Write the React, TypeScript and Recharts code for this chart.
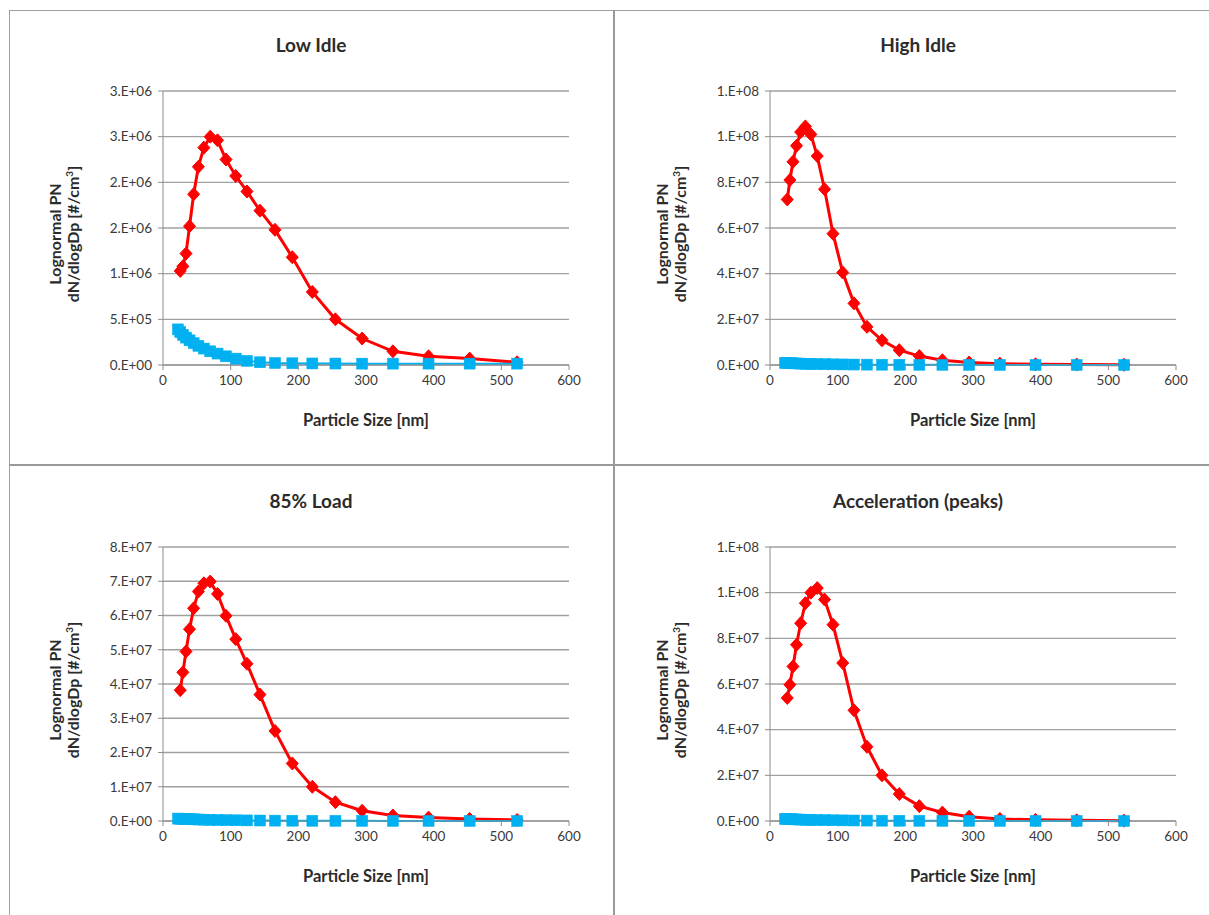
import { CartesianGrid, Line, LineChart, XAxis, YAxis } from "recharts";

// EEPS channel midpoints, nm
const particleSizes = [
  22.1, 25.5, 29.4, 34.0, 39.2, 45.3, 52.3, 60.4, 69.8, 80.6, 93.1, 107.5,
  124.1, 143.3, 165.5, 191.1, 220.7, 254.8, 294.3, 339.8, 392.4, 453.2, 523.3,
];

const xTicks = [0, 100, 200, 300, 400, 500, 600];

// Low Idle
const lowIdleRed = [
  null, 1.03e6, 1.08e6, 1.22e6, 1.52e6, 1.87e6, 2.17e6, 2.38e6, 2.5e6, 2.46e6,
  2.25e6, 2.07e6, 1.9e6, 1.69e6, 1.48e6, 1.18e6, 0.8e6, 0.5e6, 0.29e6, 0.15e6,
  0.095e6, 0.07e6, 0.03e6,
];
const lowIdleBlue = [
  3.9e5, 3.6e5, 3.3e5, 3.0e5, 2.7e5, 2.4e5, 2.1e5, 1.8e5, 1.5e5, 1.25e5,
  0.95e5, 0.7e5, 0.45e5, 0.3e5, 0.22e5, 0.19e5, 0.17e5, 0.16e5, 0.15e5, 0.15e5,
  0.15e5, 0.15e5, 0.15e5,
];
const lowIdleTicks = [0, 5e5, 1e6, 1.5e6, 2e6, 2.5e6, 3e6];

// High Idle
const highIdleRed = [
  null, 7.25e7, 8.1e7, 8.9e7, 9.6e7, 1.02e8, 1.045e8, 1.01e8, 9.15e7, 7.7e7,
  5.75e7, 4.05e7, 2.7e7, 1.67e7, 1.08e7, 0.65e7, 0.39e7, 0.21e7, 0.11e7,
  0.06e7, 0.03e7, 0.02e7, 0.01e7,
];
const highIdleBlue = [
  9e5, 8.6e5, 8.1e5, 7.4e5, 6.8e5, 6.1e5, 5.5e5, 4.8e5, 4.2e5, 3.6e5, 3.0e5,
  2.5e5, 2.0e5, 1.6e5, 1.3e5, 1.0e5, 8e4, 6e4, 5e4, 4e4, 3e4, 2e4, 1.5e4,
];
const highIdleTicks = [0, 2e7, 4e7, 6e7, 8e7, 1e8, 1.2e8];

// 85% Load
const loadRed = [
  null, 3.82e7, 4.34e7, 4.95e7, 5.6e7, 6.21e7, 6.7e7, 6.94e7, 6.99e7, 6.63e7,
  5.99e7, 5.31e7, 4.59e7, 3.69e7, 2.63e7, 1.68e7, 1.0e7, 0.55e7, 0.3e7,
  0.16e7, 0.1e7, 0.06e7, 0.03e7,
];
const loadBlue = [
  7e5, 6.7e5, 6.3e5, 5.9e5, 5.4e5, 4.9e5, 4.4e5, 3.9e5, 3.4e5, 2.9e5, 2.5e5,
  2.1e5, 1.7e5, 1.4e5, 1.1e5, 9e4, 7e4, 5e4, 4e4, 3e4, 2e4, 1.5e4, 1e4,
];
const loadTicks = [0, 1e7, 2e7, 3e7, 4e7, 5e7, 6e7, 7e7, 8e7];

// Acceleration (peaks)
const accelRed = [
  null, 5.39e7, 5.97e7, 6.77e7, 7.72e7, 8.66e7, 9.54e7, 1.0e8, 1.02e8, 9.7e7,
  8.6e7, 6.92e7, 4.85e7, 3.25e7, 2.0e7, 1.18e7, 0.65e7, 0.37e7, 0.19e7,
  0.09e7, 0.05e7, 0.03e7, 0.015e7,
];
const accelBlue = [
  9e5, 8.5e5, 8e5, 7.4e5, 6.8e5, 6.2e5, 5.6e5, 5e5, 4.4e5, 3.8e5, 3.2e5,
  2.7e5, 2.2e5, 1.8e5, 1.4e5, 1.1e5, 8e4, 6e4, 5e4, 4e4, 3e4, 2e4, 1.5e4,
];
const accelTicks = [0, 2e7, 4e7, 6e7, 8e7, 1e8, 1.2e8];

const panels = [
  { title: "Low Idle", red: lowIdleRed, blue: lowIdleBlue, ticks: lowIdleTicks },
  { title: "High Idle", red: highIdleRed, blue: highIdleBlue, ticks: highIdleTicks },
  { title: "85% Load", red: loadRed, blue: loadBlue, ticks: loadTicks },
  { title: "Acceleration (peaks)", red: accelRed, blue: accelBlue, ticks: accelTicks },
];

const FONT = "Lato, 'Open Sans', sans-serif";
const RED = "#FF0000";
const BLUE = "#00B0F0";
const GRID = "#A0A0A0";
const TEXT = "#2b2b2b";

// Excel "0.E+00" number format
function sci(v: number) {
  if (v === 0) return "0.E+00";
  let e = Math.floor(Math.log10(v));
  let m = Math.round(v / Math.pow(10, e));
  if (m >= 10) {
    m = 1;
    e += 1;
  }
  return `${m}.E+${String(e).padStart(2, "0")}`;
}

const diamondDot = (p: any) => {
  const { cx, cy, index } = p;
  if (cx == null || cy == null || isNaN(cy)) return <g key={`d${index}`} />;
  return (
    <path
      key={`d${index}`}
      d={`M${cx},${cy - 6.5}L${cx + 6},${cy}L${cx},${cy + 6.5}L${cx - 6},${cy}Z`}
      fill={RED}
      stroke={RED}
      strokeWidth={1}
    />
  );
};

const squareDot = (p: any) => {
  const { cx, cy, index } = p;
  if (cx == null || cy == null || isNaN(cy)) return <g key={`s${index}`} />;
  return (
    <rect
      key={`s${index}`}
      x={cx - 5.5}
      y={cy - 5.5}
      width={11}
      height={11}
      fill={BLUE}
      stroke={BLUE}
      strokeWidth={0.5}
    />
  );
};

function Panel({
  title,
  red,
  blue,
  ticks,
}: {
  title: string;
  red: (number | null)[];
  blue: number[];
  ticks: number[];
}) {
  const data = particleSizes.map((size, i) => ({
    size,
    red: red[i] ?? undefined,
    blue: blue[i],
  }));
  const yMax = ticks[ticks.length - 1];
  return (
    <LineChart
      width={605}
      height={455}
      data={data}
      margin={{ top: 81, right: 45, bottom: 0, left: 0 }}
      style={{ fontFamily: FONT }}
    >
      <text
        x={302}
        y={42}
        textAnchor="middle"
        fontSize={19}
        fontWeight="bold"
        fill={TEXT}
        fontFamily={FONT}
      >
        {title}
      </text>
      <CartesianGrid vertical={false} stroke={GRID} strokeWidth={1.3} />
      <XAxis
        dataKey="size"
        type="number"
        domain={[0, 600]}
        ticks={xTicks}
        height={100}
        axisLine={{ stroke: "#8C8C8C" }}
        tickLine={{ stroke: "#8C8C8C" }}
        tickSize={5}
        tickMargin={5}
        tick={{ fill: "#3a3a3a", fontSize: 13.5, fontFamily: FONT }}
        label={{
          content: () => (
            <text
              x={154 + 203}
              y={416}
              textAnchor="middle"
              fontSize={16.5}
              fontWeight="bold"
              fill={TEXT}
              fontFamily={FONT}
            >
              Particle Size [nm]
            </text>
          ),
        }}
      />
      <YAxis
        type="number"
        domain={[0, yMax]}
        ticks={ticks}
        width={154}
        tickFormatter={sci}
        axisLine={{ stroke: "#8C8C8C" }}
        tickLine={{ stroke: "#8C8C8C" }}
        tickSize={5}
        tickMargin={6}
        tick={{ fill: "#3a3a3a", fontSize: 13.5, fontFamily: FONT }}
        label={{
          content: () => (
            <text
              transform="translate(0,224) rotate(-90)"
              textAnchor="middle"
              fontSize={16}
              fontWeight="bold"
              fill={TEXT}
              fontFamily={FONT}
            >
              <tspan x={0} y={52}>
                Lognormal PN
              </tspan>
              <tspan x={0} y={70}>
                dN/dlogDp [#/cm
                <tspan baselineShift="super" fontSize={10}>
                  3
                </tspan>
                ]
              </tspan>
            </text>
          ),
        }}
      />
      <Line
        dataKey="red"
        stroke={RED}
        strokeWidth={3}
        dot={diamondDot}
        activeDot={false}
        connectNulls
        isAnimationActive={false}
      />
      <Line
        dataKey="blue"
        stroke={BLUE}
        strokeWidth={2}
        dot={squareDot}
        activeDot={false}
        isAnimationActive={false}
      />
    </LineChart>
  );
}

const positions = [
  { left: 9, top: 10 },
  { left: 616, top: 10 },
  { left: 9, top: 466 },
  { left: 616, top: 466 },
];

export default function App() {
  return (
    <div
      style={{
        position: "relative",
        width: 1209,
        height: 915,
        background: "#fff",
        overflow: "hidden",
        fontFamily: FONT,
      }}
    >
      <style>{`body{margin:0}`}</style>
      {/* frame */}
      <div style={{ position: "absolute", left: 9, top: 10, width: 1200, height: 1, background: "#A0A0A0" }} />
      <div style={{ position: "absolute", left: 9, top: 10, width: 1, height: 905, background: "#A0A0A0" }} />
      <div style={{ position: "absolute", left: 613, top: 10, width: 2, height: 905, background: "#9A9A9A" }} />
      <div style={{ position: "absolute", left: 9, top: 464, width: 1200, height: 2, background: "#9A9A9A" }} />
      {panels.map((p, i) => (
        <div
          key={p.title}
          style={{ position: "absolute", left: positions[i].left, top: positions[i].top }}
        >
          <Panel title={p.title} red={p.red} blue={p.blue} ticks={p.ticks} />
        </div>
      ))}
    </div>
  );
}
